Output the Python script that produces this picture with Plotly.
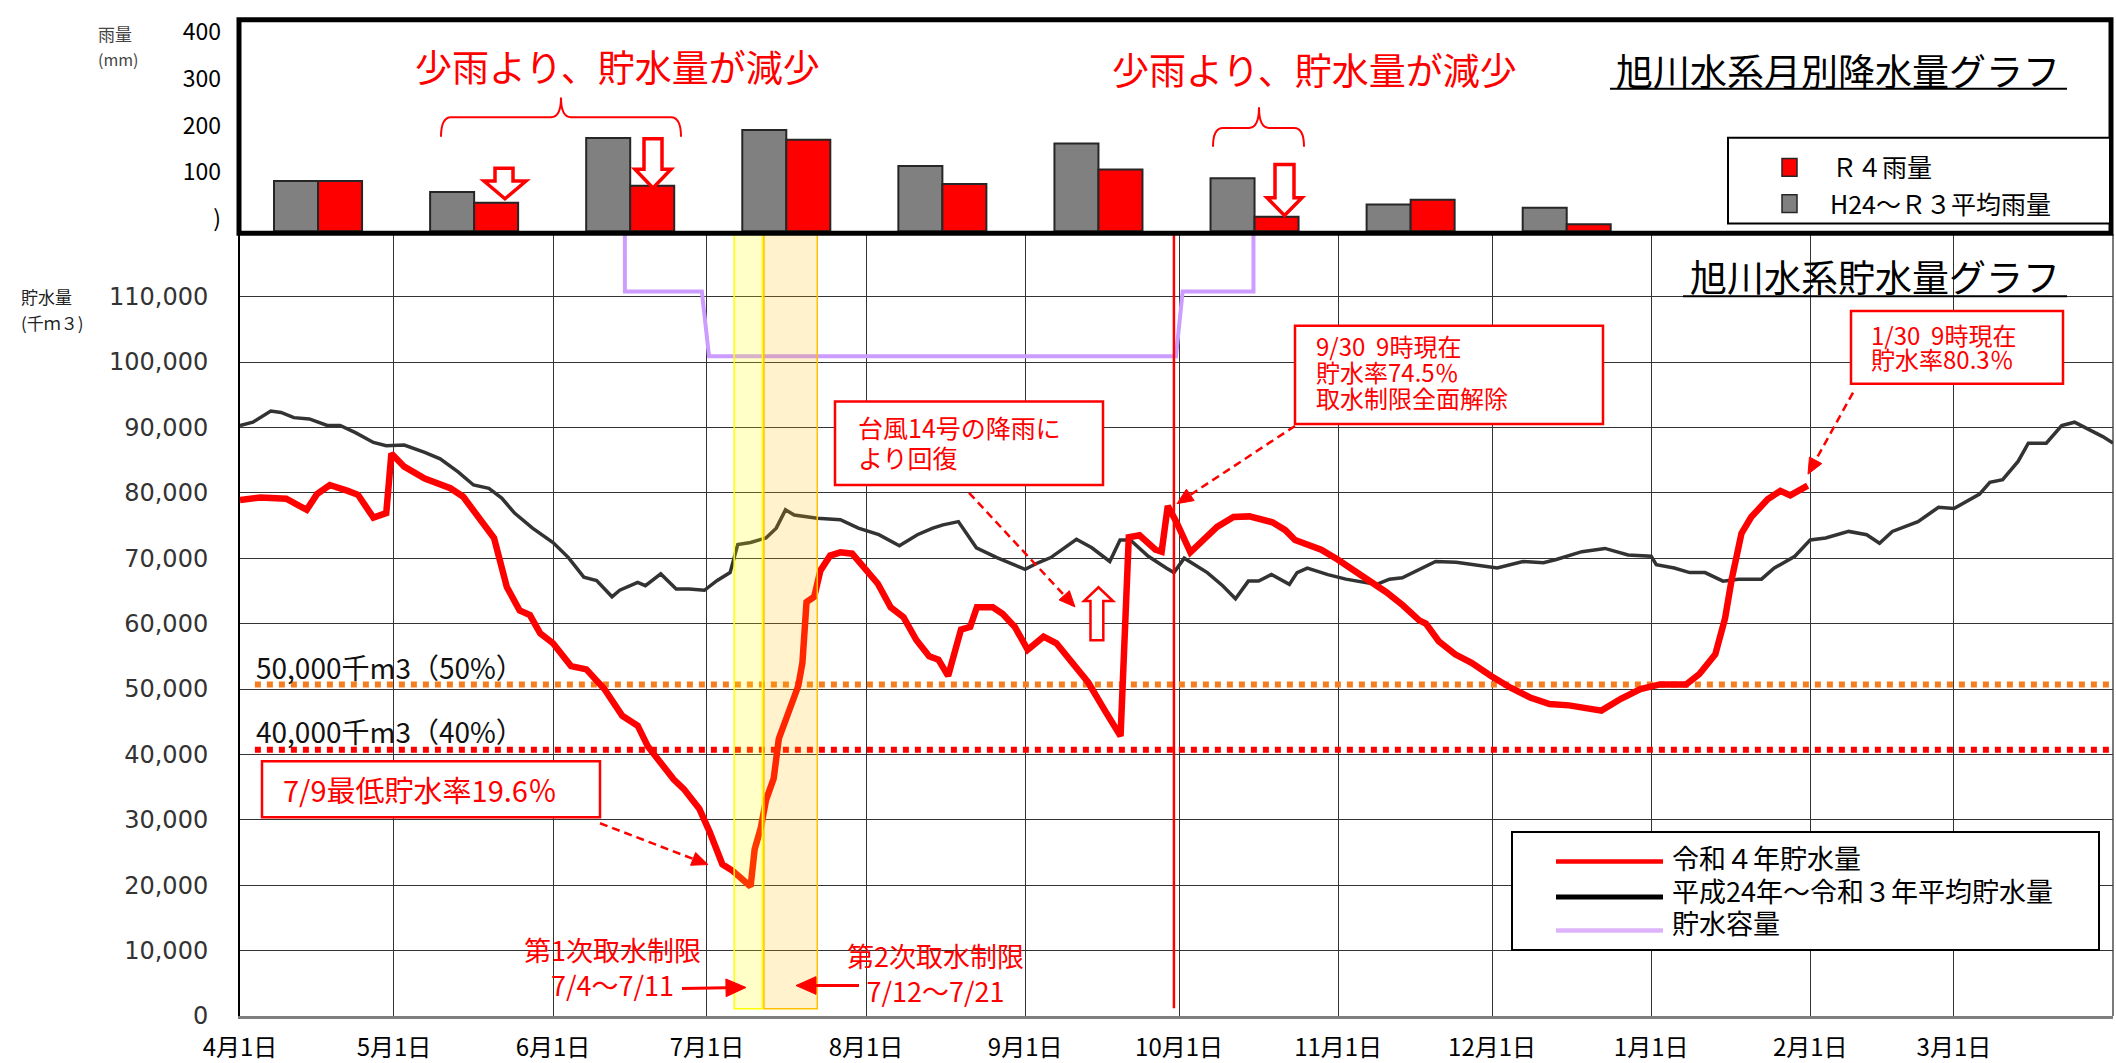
import math
import pandas as pd
import plotly.graph_objects as go

# ---------------- data ----------------
month_starts = ["2022-04-01", "2022-05-01", "2022-06-01", "2022-07-01", "2022-08-01",
                "2022-09-01", "2022-10-01", "2022-11-01", "2022-12-01", "2023-01-01",
                "2023-02-01", "2023-03-01", "2023-04-01"]
month_labels = ["4月1日", "5月1日", "6月1日", "7月1日", "8月1日", "9月1日", "10月1日",
                "11月1日", "12月1日", "1月1日", "2月1日", "3月1日", ""]

storage_ticks = [0, 10000, 20000, 30000, 40000, 50000, 60000, 70000, 80000, 90000, 100000, 110000]
storage_tick_labels = ["0", "10,000", "20,000", "30,000", "40,000", "50,000", "60,000",
                       "70,000", "80,000", "90,000", "100,000", "110,000"]

# monthly rainfall (mm), Apr..Dec  (category index 0 = April)
rain_month_index = [0, 1, 2, 3, 4, 5, 6, 7, 8]
rain_avg_mm = [107, 84, 199, 216, 139, 187, 113, 57, 50]
rain_r4_mm = [107, 61, 97, 195, 101, 132, 31, 67, 15]
rain_ticks = [0, 100, 200, 300, 400]
rain_tick_labels = [")", "100", "200", "300", "400"]

# storage (千m3), day offset from 2022-04-01
r4_day = [0, 4, 9, 13, 15, 17.5, 21, 23, 26, 28.5, 29.5, 32, 36, 41, 43.5, 46, 49.5, 52, 54.5,
          56.5, 58.5, 61, 64.5, 67.5, 71, 74.5, 77.5, 79.5, 82, 84.5, 86.5, 89.5, 91.5, 94, 96,
          98.5, 99.5, 100.3, 101.5, 102.5, 104, 105, 107, 108.8, 109.6, 110.4, 111.9, 113.1,
          115, 117, 119.3, 121.8, 124.3, 126.8, 129.3, 131.8, 134.3, 136.1, 138, 140.5, 142.3,
          143.6, 146.7, 148.6, 151, 153.5, 156.6, 159.1, 162.9, 165.3, 168.4, 170.3, 171.6,
          173.2, 175.3, 178.4, 179.6, 180.8, 182.5, 185.2, 188.4, 190.4, 193.6, 196.7, 201.2,
          203.7, 205.6, 208.2, 210.7, 213.9, 217.7, 220.9, 223.4, 226.6, 229.8, 231.1, 233.6,
          236.8, 240, 243.8, 247.6, 251.4, 255.2, 259, 262.8, 265.3, 269.1, 272.9, 276.7,
          281.8, 284.4, 287.5, 289.4, 290.7, 292.6, 294.5, 297.7, 300.2, 302.1, 305.5]
r4_storage = [78900, 79300, 79100, 77400, 79800, 81200, 80300, 79700, 76200, 76900, 86000, 84000,
              82200, 80700, 79400, 76600, 73100, 65600, 62000, 61300, 58500, 57000, 53500, 53000,
              50000, 45900, 44400, 41200, 38500, 36200, 34700, 31700, 28200, 23200, 22200, 20600,
              19800, 25500, 28800, 33000, 36300, 42400, 46900, 50500, 54000, 63300, 64100, 68100,
              70400, 70900, 70700, 68300, 66100, 62500, 61000, 57500, 55000, 54500, 52000, 59100,
              59500, 62500, 62500, 61500, 59500, 56000, 58000, 57000, 53500, 51000, 46900, 44400,
              42800, 73200, 73500, 71300, 71000, 78000, 75500, 70900, 73200, 74800, 76300, 76400,
              75500, 74300, 72800, 72000, 71300, 69800, 67800, 66300, 64800, 62800, 60500, 60000,
              57300, 55300, 54000, 52000, 50200, 48700, 47700, 47500, 47000, 46700, 48500, 50000,
              50700, 50700, 52300, 55300, 60800, 66800, 73800, 76300, 79000, 80300, 79600, 81100]

avg_day = [0, 2.5, 6, 8, 10.5, 13.5, 17, 19.5, 22.5, 26, 28.5, 32, 36, 39, 42.5, 45.5, 48.5, 51,
           53.5, 57, 61, 64, 67, 69.5, 72.5, 74, 77.5, 79, 82, 85, 87.5, 90.5, 93, 95.5, 97, 99.5,
           102.5, 104.5, 106.3, 108, 112.5, 117, 120.5, 124.5, 128.5, 132, 135, 137, 140, 143.5,
           147.5, 153, 155.5, 158, 163, 166, 169.5, 171.5, 173.5, 177, 180.5, 182, 184, 188.5,
           191.5, 194, 196.5, 198.5, 201, 204.5, 206, 208, 212, 215.5, 221.5, 224, 226.5, 230,
           233, 237, 241, 245, 250, 254, 256.5, 261.5, 266, 270.5, 275, 276, 279.5, 282.5, 285.5,
           289, 292, 296.5, 299, 303, 306, 309, 313.5, 317, 319.5, 322, 327, 331, 334, 339, 341,
           343.5, 346.5, 348.5, 352, 355, 357.5, 360.5, 363, 365]
avg_storage = [90300, 90800, 92500, 92300, 91500, 91300, 90300, 90300, 89200, 87700, 87200, 87300,
               86200, 85200, 83200, 81200, 80700, 79200, 76900, 74600, 72400, 70100, 67100, 66600,
               64100, 65100, 66300, 65800, 67600, 65300, 65300, 65100, 66600, 67800, 72100, 72400,
               73100, 74600, 77400, 76600, 76100, 75900, 74600, 73600, 71900, 73600, 74600, 75100,
               75600, 71600, 70100, 68300, 69300, 70100, 72900, 71600, 69500, 72800, 72800, 70300,
               68500, 67800, 70000, 67800, 65800, 63800, 66500, 66500, 67500, 66000, 67800, 68500,
               67500, 66800, 66000, 66800, 67000, 68300, 69500, 69400, 69000, 68500, 69500, 69300,
               69800, 71000, 71500, 70500, 70300, 69000, 68500, 67800, 67800, 66500, 66800, 66800,
               68500, 70300, 72800, 73100, 74100, 73600, 72300, 74100, 75600, 77800, 77600, 79800,
               81600, 82000, 84800, 87600, 87600, 90300, 90800, 89600, 88600, 87600]

cap_day = [75.0, 75.0, 90.0, 91.4, 182.4, 183.7, 197.5, 197.5]
cap_storage = [125000, 110800, 110800, 100900, 100900, 110800, 110800, 125000]

# ---------------- geometry helpers ----------------
FONT = "Noto Sans CJK JP"
W, H = 2116, 1063
ML, MR, MT, MB = 240, 3, 0, 39
PW = W - ML - MR
PH = H - MT - MB


def px(x):
    return (x - ML) / PW


def py(y):
    return (H - MB - y) / PH


BASE = pd.Timestamp("2022-04-01")


def to_dates(days):
    return [BASE + pd.Timedelta(days=d) for d in days]


def dstr(d):
    return (BASE + pd.Timedelta(days=d)).strftime("%Y-%m-%d %H:%M:%S")


STORE_TOP_PX = 229
store_top_val = (1024 - STORE_TOP_PX) / 66.5 * 10000
rain_top_val = (226 - 13) / 0.4765

shapes = []
annos = []


def rect(x0, y0, x1, y1, color, width, fill="white", layer="above"):
    shapes.append(dict(type="rect", xref="paper", yref="paper", x0=px(x0), x1=px(x1),
                       y0=py(y1), y1=py(y0), line=dict(color=color, width=width),
                       fillcolor=fill, layer=layer))


def seg(x0, y0, x1, y1, color, width, dash="solid"):
    shapes.append(dict(type="line", xref="paper", yref="paper", x0=px(x0), x1=px(x1),
                       y0=py(y0), y1=py(y1), line=dict(color=color, width=width, dash=dash),
                       layer="above"))


def poly(points, line_color, line_width, fill):
    p = "M" + " L".join(f"{px(x):.5f},{py(y):.5f}" for x, y in points) + " Z"
    shapes.append(dict(type="path", xref="paper", yref="paper", path=p,
                       line=dict(color=line_color, width=line_width), fillcolor=fill,
                       layer="above"))


def text(x, y, s, size, color="#000", xanchor="left", family=FONT):
    annos.append(dict(xref="paper", yref="paper", x=px(x), y=py(y), text=s, showarrow=False,
                      xanchor=xanchor, yanchor="middle", borderpad=0,
                      font=dict(size=size, color=color, family=family)))


def text_lines(x, y_center, lines, spacing, glyph, color="#000", xanchor="left"):
    """one multi-line text; line pitch = 1.3 * base size, glyphs drawn at `glyph` px"""
    base = spacing / 1.3
    s = "<br>".join(f"<span style='font-size:{glyph}px'>{ln}</span>" for ln in lines)
    annos.append(dict(xref="paper", yref="paper", x=px(x), y=py(y_center), text=s,
                      showarrow=False, xanchor=xanchor, yanchor="middle", borderpad=0,
                      align=xanchor if xanchor != "center" else "center",
                      font=dict(size=base, color=color, family=FONT)))


def arrow(x0, y0, x1, y1, color="#FF0000", width=2.5, dash="8px,5px", length=16, half=7):
    dx, dy = x1 - x0, y1 - y0
    d = math.hypot(dx, dy)
    ux, uy = dx / d, dy / d
    bx, by = x1 - ux * length, y1 - uy * length
    nx, ny = -uy, ux
    seg(x0, y0, bx, by, color, width, dash)
    poly([(x1, y1), (bx + nx * half, by + ny * half), (bx - nx * half, by - ny * half)],
         color, 1, color)


def hollow_down(sx0, sx1, top, hx0, hx1, hb, tip, lw=3.5):
    tx = (hx0 + hx1) / 2
    poly([(sx0, top), (sx0, hb), (hx0, hb), (tx, tip), (hx1, hb), (sx1, hb), (sx1, top)],
         "#FF0000", lw, "white")


def hollow_up(sx0, sx1, bottom, hx0, hx1, hb, tip, lw=2.5):
    tx = (hx0 + hx1) / 2
    poly([(sx0, bottom), (sx0, hb), (hx0, hb), (tx, tip), (hx1, hb), (sx1, hb), (sx1, bottom)],
         "#FF0000", lw, "white")


def brace(xl, xr, xc, ytip, yh, ytop, r=10):
    p = (f"M{px(xl)},{py(ytip)} Q{px(xl)},{py(yh)} {px(xl + r)},{py(yh)} "
         f"L{px(xc - r)},{py(yh)} Q{px(xc)},{py(yh)} {px(xc)},{py(ytop)} "
         f"Q{px(xc)},{py(yh)} {px(xc + r)},{py(yh)} "
         f"L{px(xr - r)},{py(yh)} Q{px(xr)},{py(yh)} {px(xr)},{py(ytip)}")
    shapes.append(dict(type="path", xref="paper", yref="paper", path=p,
                       line=dict(color="#FF0000", width=2), layer="above"))


# ---------------- figure ----------------
fig = go.Figure()
fig.add_trace(go.Bar(x=rain_month_index, y=rain_avg_mm, xaxis="x2", yaxis="y2",
                     name="H24～Ｒ３平均雨量",
                     marker=dict(color="#808080", line=dict(color="#262626", width=2))))
fig.add_trace(go.Bar(x=rain_month_index, y=rain_r4_mm, xaxis="x2", yaxis="y2",
                     name="Ｒ４雨量",
                     marker=dict(color="#FF0000", line=dict(color="#262626", width=2))))
fig.add_trace(go.Scatter(x=to_dates(cap_day), y=cap_storage, mode="lines", name="貯水容量",
                         line=dict(color="#CC9CFF", width=4)))
fig.add_trace(go.Scatter(x=to_dates(avg_day), y=avg_storage, mode="lines",
                         name="平成24年～令和３年平均貯水量",
                         line=dict(color="#333333", width=3.5)))
fig.add_trace(go.Scatter(x=to_dates(r4_day), y=r4_storage, mode="lines", name="令和４年貯水量",
                         line=dict(color="#FF0000", width=6.5)))

# threshold dotted lines
shapes.append(dict(type="line", xref="x", yref="y", x0=dstr(2.9), x1="2023-04-01",
                   y0=50700, y1=50700, line=dict(color="#F57F20", width=6, dash="6px,6px"),
                   layer="between"))
shapes.append(dict(type="line", xref="x", yref="y", x0=dstr(2.9), x1="2023-04-01",
                   y0=40700, y1=40700, line=dict(color="#FF0000", width=6, dash="6px,6px"),
                   layer="between"))
# right border of storage plot
shapes.append(dict(type="line", xref="paper", yref="paper", x0=1, x1=1, y0=0, y1=py(229),
                   line=dict(color="#333", width=1.3), layer="between"))

# water restriction bands
shapes.append(dict(type="rect", xref="x", yref="y", x0=dstr(96.3), x1=dstr(101.8),
                   y0=1100, y1=store_top_val, fillcolor="rgba(255,255,0,0.22)",
                   line=dict(color="#FFFF00", width=1.5), layer="above"))
shapes.append(dict(type="rect", xref="x", yref="y", x0=dstr(102.1), x1=dstr(112.5),
                   y0=1100, y1=store_top_val, fillcolor="rgba(255,192,0,0.2)",
                   line=dict(color="#FFC000", width=1.5), layer="above"))
# 9/30 red vertical line
shapes.append(dict(type="line", xref="x", yref="y", x0="2022-09-30", x1="2022-09-30",
                   y0=1200, y1=store_top_val, line=dict(color="#FF0000", width=2.5),
                   layer="above"))

# rain panel box
rect(239, 11, 2111, 228, "#000", 5, fill="rgba(0,0,0,0)")

# rain panel texts
text(97, 25, "雨量", 17, "#444")
text(97, 51, "(mm)", 16, "#444")
text(1838, 62, "旭川水系月別降水量グラフ", 37, "#000", xanchor="center")
seg(1610, 81, 2067, 81, "#000", 2)
text(617, 58, "少雨より、貯水量が減少", 37, "#FF0000", xanchor="center")
text(1314, 61, "少雨より、貯水量が減少", 37, "#FF0000", xanchor="center")
brace(441, 681, 561, 130, 110, 90)
brace(1213, 1304, 1259, 140, 121, 100)
hollow_down(495, 513, 162, 484, 526, 175, 193)
hollow_down(644, 662, 132, 635, 671, 163, 182)
hollow_down(1275, 1294, 158, 1267, 1302, 192, 210)

# rain legend
rect(1728, 131, 2110, 218, "#000", 2)
rect(1782, 152, 1797, 170, "#262626", 1.5, fill="#FF0000")
rect(1782, 189, 1797, 207, "#262626", 1.5, fill="#808080")
text(1831, 160, "Ｒ４雨量", 25)
text(1829, 197, "H24～Ｒ３平均雨量", 25)

# storage panel texts
text(20, 292, "貯水量", 17, "#222")
text(20, 319, "(千ｍ３)", 17, "#222")
text(1875, 272, "旭川水系貯水量グラフ", 37, "#000", xanchor="center")
seg(1683, 292, 2067, 292, "#000", 2)
text(255, 669, "50,000千m3（50%）", 28, "#111")
text(255, 734, "40,000千m3（40%）", 28, "#111")

# annotation: minimum
rect(262, 765, 600, 822, "#FF0000", 2.5)
text(282, 793, "7/9最低貯水率19.6％", 29, "#FF0000")
arrow(600, 828, 708, 870)

# annotation: typhoon
rect(835, 399, 1103, 484, "#FF0000", 2.5)
text_lines(857, 440, ["台風14号の降雨に", "より回復"], 30, 25, "#FF0000")
arrow(969, 492, 1075, 608)
hollow_up(1090.5, 1103.3, 642, 1084, 1113, 602, 588)

# annotation: 9/30
rect(1295, 322, 1603, 422, "#FF0000", 2.5)
text_lines(1315, 369, ["9/30\u00a0\u00a09時現在", "貯水率74.5％", "取水制限全面解除"],
           26, 24, "#FF0000")
arrow(1295, 424, 1177, 503)

# annotation: 1/30
rect(1851, 307, 2063, 381, "#FF0000", 2.5)
text_lines(1870, 343, ["1/30\u00a0\u00a09時現在", "貯水率80.3％"], 24, 24, "#FF0000")
arrow(1853, 390, 1808, 473)

# restriction labels
text_lines(612, 974.5, ["第1次取水制限", "7/4～7/11"], 35, 27, "#FF0000", xanchor="center")
arrow(682, 996, 746, 995, width=3, dash="solid", length=20, half=9)
text_lines(935, 980.5, ["第2次取水制限", "7/12～7/21"], 35, 27, "#FF0000", xanchor="center")
arrow(859, 993, 796, 993, width=3, dash="solid", length=20, half=9)

# storage legend
rect(1512, 837, 2099, 957, "#000", 2)
seg(1556, 867, 1663, 867, "#FF0000", 4.5)
seg(1556, 903, 1663, 903, "#000000", 5)
seg(1556, 937, 1663, 937, "#DDB4FB", 4.5)
text_lines(1671, 896, ["令和４年貯水量", "平成24年～令和３年平均貯水量", "貯水容量"], 32.5, 27)

fig.update_layout(
    width=W, height=H,
    margin=dict(l=ML, r=MR, t=MT, b=MB, pad=0),
    plot_bgcolor="white", paper_bgcolor="white",
    showlegend=False,
    barmode="group", bargap=0.436, bargroupgap=0,
    font=dict(family=FONT),
    xaxis=dict(domain=[0, 1], type="date", range=["2022-04-01", "2023-04-01"],
               tickmode="array", tickvals=month_starts, ticktext=month_labels,
               showgrid=True, gridcolor="#333", gridwidth=1.3,
               showline=True, linecolor="#7f7f7f", linewidth=3, ticks="",
               zeroline=False, anchor="y",
               tickfont=dict(family=FONT, size=24, color="#000"), ticklabelstandoff=8),
    yaxis=dict(domain=[0, py(STORE_TOP_PX)], range=[0, store_top_val],
               tickmode="array", tickvals=storage_ticks, ticktext=storage_tick_labels,
               showgrid=True, gridcolor="#333", gridwidth=1.3,
               showline=True, linecolor="#000", linewidth=2, zeroline=False, ticks="",
               anchor="x",
               tickfont=dict(family="DejaVu Sans", size=24, color="#333"),
               ticklabelstandoff=25),
    xaxis2=dict(domain=[0, 1], range=[-0.5, 11.5], visible=False, anchor="y2"),
    yaxis2=dict(domain=[py(226), py(13)], range=[0, rain_top_val],
                tickmode="array", tickvals=rain_ticks, ticktext=rain_tick_labels,
                showgrid=False, zeroline=False, showline=False, ticks="", anchor="x2",
                tickfont=dict(family=FONT, size=23, color="#000"),
                ticklabelshift=-12, ticklabelstandoff=18),
    shapes=shapes,
    annotations=annos,
)

fig.write_html("out.html", config={"displayModeBar": False},
               post_script="document.body.style.margin='0';document.body.style.overflow='hidden';")
